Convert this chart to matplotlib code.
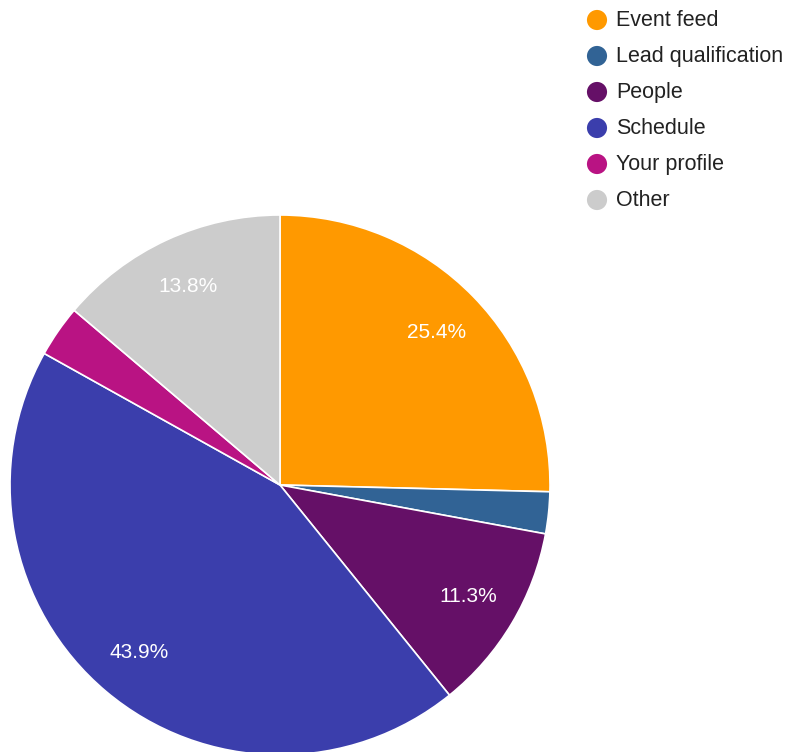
import matplotlib.pyplot as plt

labels = ['Event feed', 'Lead qualification', 'People', 'Schedule', 'Your profile', 'Other']
values = [25.4, 2.5, 11.3, 43.9, 3.1, 13.8]
colors = ['#ff9900', '#316395', '#651067', '#3b3eac', '#b91383', '#cccccc']

plt.rcParams['font.family'] = ['Liberation Sans', 'DejaVu Sans']

W, H = 789, 752
fig = plt.figure(figsize=(W / 100, H / 100), dpi=100)

# pie: centre (280, 485) px, radius 270 px
cx, cy, r = 280, 485, 270
ax = fig.add_axes([(cx - r) / W, (H - cy - r) / H, 2 * r / W, 2 * r / H])


def fmt(p):
    return f'{p:.1f}%' if p >= 5 else ''


wedges, texts, autotexts = ax.pie(
    values, colors=colors, startangle=90, counterclock=False,
    autopct=fmt, pctdistance=0.81,
    wedgeprops=dict(edgecolor='white', linewidth=1.2),
    textprops=dict(color='white', fontsize=15))
ax.set_xlim(-1, 1)
ax.set_ylim(-1, 1)
ax.set_aspect('equal')
for w in wedges:
    w.set_clip_on(False)

# legend, drawn in pixel space
lax = fig.add_axes([0, 0, 1, 1])
lax.set_xlim(0, W)
lax.set_ylim(H, 0)
lax.axis('off')
lax.patch.set_alpha(0)
for i, (lab, col) in enumerate(zip(labels, colors)):
    y = 20 + 36 * i
    lax.scatter([597], [y], s=14.5 ** 2, color=col, edgecolors='none')
    lax.text(616, y + 0.5, lab, fontsize=15.5, color='#222222', va='center', ha='left')

fig.savefig('out.png', dpi=100)
